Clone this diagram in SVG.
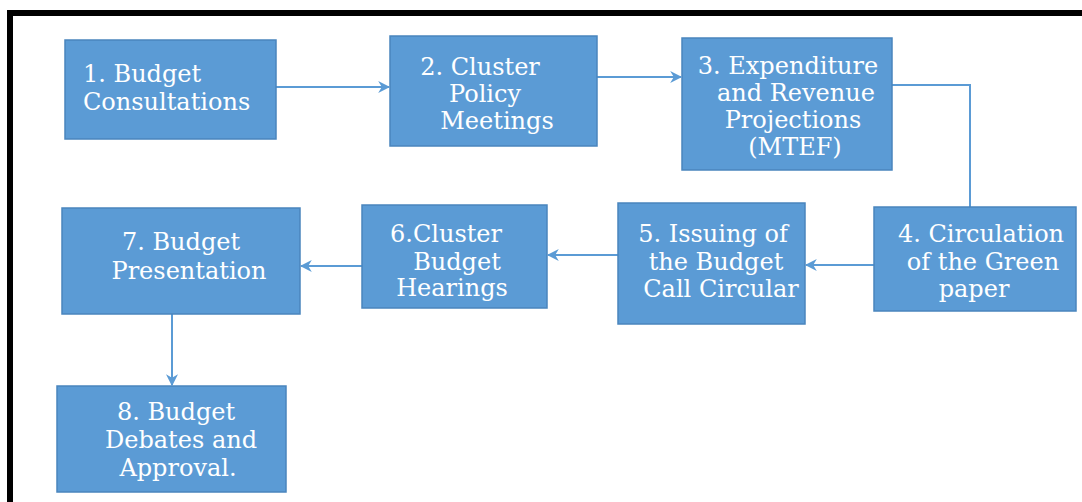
<svg xmlns="http://www.w3.org/2000/svg" width="1082" height="502" viewBox="0 0 1082 502">
<style>
.box{fill:#5b9bd5;stroke:#4a85bd;stroke-width:1.5}
.t{fill:#ffffff;font-family:"DejaVu Serif","Liberation Serif",serif;font-size:24px;text-anchor:middle}
.c{fill:none;stroke:#5b9bd5;stroke-width:2}
</style>
<defs>
<marker id="ah" viewBox="0 0 10 10" refX="9" refY="5" markerWidth="6" markerHeight="6" orient="auto" markerUnits="strokeWidth">
<path d="M0,0 L10,5 L0,10 L3,5 Z" fill="#5b9bd5"/>
</marker>
</defs>
<rect x="0" y="0" width="1082" height="502" fill="#ffffff"/>
<rect x="10" y="13" width="1080" height="500" fill="none" stroke="#000000" stroke-width="6"/>
<g id="connectors">
<line class="c" x1="276" y1="87" x2="389" y2="87" marker-end="url(#ah)"/>
<line class="c" x1="597" y1="77" x2="681" y2="77" marker-end="url(#ah)"/>
<polyline class="c" points="892,85 970,85 970,207"/>
<line class="c" x1="874" y1="265" x2="806" y2="265" marker-end="url(#ah)"/>
<line class="c" x1="618" y1="255" x2="548" y2="255" marker-end="url(#ah)"/>
<line class="c" x1="362" y1="266" x2="301" y2="266" marker-end="url(#ah)"/>
<line class="c" x1="172" y1="314" x2="172" y2="385" marker-end="url(#ah)"/>
</g>
<g id="n1">
<rect class="box" x="65" y="40" width="211" height="99"/>
<text class="t" style="text-anchor:start" x="83" y="82">1. Budget</text>
<text class="t" style="text-anchor:start" x="83" y="110">Consultations</text>
</g>
<g id="n2">
<rect class="box" x="390" y="36" width="207" height="110"/>
<text class="t" x="480" y="75">2. Cluster</text>
<text class="t" x="485" y="102">Policy</text>
<text class="t" x="497" y="129">Meetings</text>
</g>
<g id="n3">
<rect class="box" x="682" y="38" width="210" height="132"/>
<text class="t" x="788" y="74">3. Expenditure</text>
<text class="t" x="796" y="101">and Revenue</text>
<text class="t" x="793" y="128">Projections</text>
<text class="t" x="795" y="155">(MTEF)</text>
</g>
<g id="n4">
<rect class="box" x="874" y="207" width="202" height="104"/>
<text class="t" x="981" y="242">4. Circulation</text>
<text class="t" x="983" y="270">of the Green</text>
<text class="t" x="974" y="297">paper</text>
</g>
<g id="n5">
<rect class="box" x="618" y="203" width="187" height="121"/>
<text class="t" x="713" y="242">5. Issuing of</text>
<text class="t" x="716" y="270">the Budget</text>
<text class="t" x="721" y="297">Call Circular</text>
</g>
<g id="n6">
<rect class="box" x="362" y="205" width="185" height="103"/>
<text class="t" x="446" y="242">6.Cluster</text>
<text class="t" x="457" y="270">Budget</text>
<text class="t" x="452" y="296">Hearings</text>
</g>
<g id="n7">
<rect class="box" x="62" y="208" width="238" height="106"/>
<text class="t" x="181" y="250">7. Budget</text>
<text class="t" x="189" y="279">Presentation</text>
</g>
<g id="n8">
<rect class="box" x="57" y="386" width="229" height="106"/>
<text class="t" x="176" y="420">8. Budget</text>
<text class="t" x="181" y="448">Debates and</text>
<text class="t" x="178" y="476">Approval.</text>
</g>
</svg>
